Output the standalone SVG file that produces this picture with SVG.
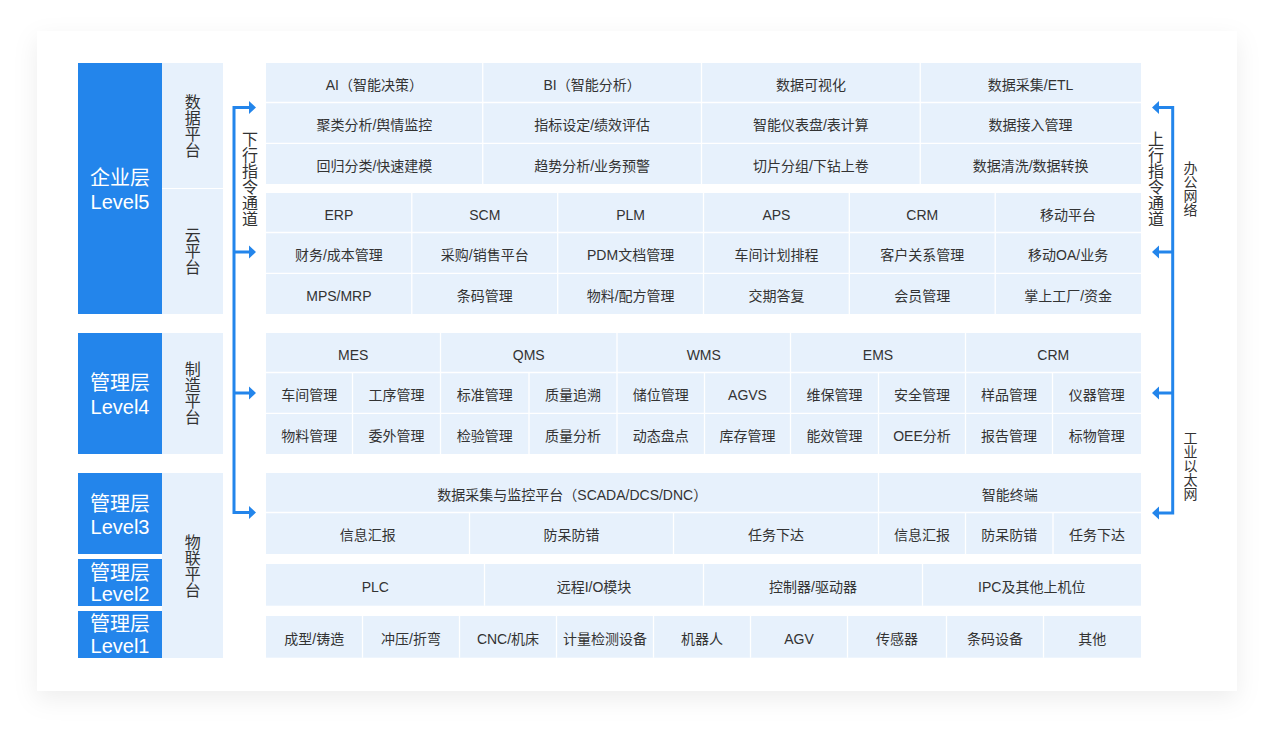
<svg xmlns="http://www.w3.org/2000/svg" width="1274" height="734" viewBox="0 0 1274 734">
<defs>
<filter id="sh" x="-10%" y="-10%" width="120%" height="125%">
<feDropShadow dx="0" dy="8" stdDeviation="12" flood-color="#000" flood-opacity="0.07"/>
</filter>
<style>
.bg{fill:#E7F1FC}
.lv{fill:#2385EB}
.sep{stroke:#fff;stroke-width:1.3;fill:none}
.t{font-family:"Liberation Sans","Noto Sans CJK SC",sans-serif;font-size:14px;fill:#333;text-anchor:middle}
.lt{font-family:"Liberation Sans","Noto Sans CJK SC",sans-serif;font-size:20px;fill:#fff;text-anchor:middle}
.vt{font-family:"Noto Sans CJK SC",sans-serif;font-size:16px;fill:#333;text-anchor:middle;writing-mode:vertical-rl}
.vs{font-family:"Noto Sans CJK SC",sans-serif;font-size:14px;fill:#333;text-anchor:middle;writing-mode:vertical-rl}
.ln{stroke:#2385EB;stroke-width:3;fill:none}
.ah{fill:#2385EB}
</style>
</defs>
<rect width="1274" height="734" fill="#fff"/>
<rect x="37" y="31" width="1200" height="660" fill="#fff" filter="url(#sh)"/>

<g id="level5">
<rect class="lv" x="78" y="63" width="84" height="251"/>
<text class="lt" x="120" y="184.5">企业层</text>
<text class="lt" x="120" y="209">Level5</text>
</g>
<g id="level4">
<rect class="lv" x="78" y="333" width="84" height="121"/>
<text class="lt" x="120" y="389.5">管理层</text>
<text class="lt" x="120" y="414">Level4</text>
</g>
<g id="level3">
<rect class="lv" x="78" y="473" width="84" height="81"/>
<text class="lt" x="120" y="510.5">管理层</text>
<text class="lt" x="120" y="534">Level3</text>
</g>
<g id="level2">
<rect class="lv" x="78" y="559" width="84" height="47"/>
<text class="lt" x="120" y="580">管理层</text>
<text class="lt" x="120" y="601">Level2</text>
</g>
<g id="level1">
<rect class="lv" x="78" y="611" width="84" height="47"/>
<text class="lt" x="120" y="630.5">管理层</text>
<text class="lt" x="120" y="653">Level1</text>
</g>

<g id="platform-data">
<rect class="bg" x="162" y="63" width="61" height="125"/>
<text class="vt" x="192.7" y="125.5">数据平台</text>
</g>
<g id="platform-cloud">
<rect class="bg" x="162" y="189" width="61" height="125"/>
<text class="vt" x="192.7" y="251">云平台</text>
</g>
<g id="platform-mfg">
<rect class="bg" x="162" y="333" width="61" height="121"/>
<text class="vt" x="192.7" y="392.5">制造平台</text>
</g>
<g id="platform-iot">
<rect class="bg" x="162" y="473" width="61" height="185"/>
<text class="vt" x="192.7" y="565.8">物联平台</text>
</g>

<g id="connectors">
<path class="ln" d="M250 107.5 H234 V512.5 H250 M234 252 H250 M234 393 H250"/>
<polygon class="ah" points="256,107.5 249,101 249,114"/>
<polygon class="ah" points="256,252 249,245.5 249,258.5"/>
<polygon class="ah" points="256,393 249,386.5 249,399.5"/>
<polygon class="ah" points="256,512.5 249,506 249,519"/>
<path class="ln" d="M1158 107.5 H1172.7 V513 H1158 M1172.7 252 H1158 M1172.7 393 H1158"/>
<polygon class="ah" points="1152,107.5 1159,101 1159,114"/>
<polygon class="ah" points="1152,252 1159,245.5 1159,258.5"/>
<polygon class="ah" points="1152,393 1159,386.5 1159,399.5"/>
<polygon class="ah" points="1152,513 1159,506.5 1159,519.5"/>
</g>
<g id="label-down">
<text class="vt" x="250" y="178.5">下行指令通道</text>
</g>
<g id="label-up">
<text class="vt" x="1156" y="178.5">上行指令通道</text>
</g>
<g id="label-office">
<text class="vs" x="1190.5" y="188.3">办公网络</text>
</g>
<g id="label-ethernet">
<text class="vs" x="1190.5" y="466">工业以太网</text>
</g>

<g id="data-platform">
<rect class="bg" x="266" y="63" width="875" height="121"/>
<path class="sep" d="M266 102.5 H1141 M266 143.3 H1141 M482.75 63 V184 M701.5 63 V184 M920.25 63 V184"/>
<text class="t" x="374.4" y="89.7">AI（智能决策）</text>
<text class="t" x="592.1" y="89.7">BI（智能分析）</text>
<text class="t" x="810.9" y="89.7">数据可视化</text>
<text class="t" x="1030.6" y="89.7">数据采集/ETL</text>
<text class="t" x="374.4" y="129.8">聚类分析/舆情监控</text>
<text class="t" x="592.1" y="129.8">指标设定/绩效评估</text>
<text class="t" x="810.9" y="129.8">智能仪表盘/表计算</text>
<text class="t" x="1030.6" y="129.8">数据接入管理</text>
<text class="t" x="374.4" y="170.7">回归分类/快速建模</text>
<text class="t" x="592.1" y="170.7">趋势分析/业务预警</text>
<text class="t" x="810.9" y="170.7">切片分组/下钻上卷</text>
<text class="t" x="1030.6" y="170.7">数据清洗/数据转换</text>
</g>

<g id="cloud-platform">
<rect class="bg" x="266" y="193" width="875" height="121"/>
<path class="sep" d="M266 232.5 H1141 M266 273.3 H1141 M411.8 193 V314 M557.7 193 V314 M703.5 193 V314 M849.3 193 V314 M995.2 193 V314"/>
<text class="t" x="338.9" y="219.7">ERP</text>
<text class="t" x="484.75" y="219.7">SCM</text>
<text class="t" x="630.6" y="219.7">PLM</text>
<text class="t" x="776.4" y="219.7">APS</text>
<text class="t" x="922.25" y="219.7">CRM</text>
<text class="t" x="1068.1" y="219.7">移动平台</text>
<text class="t" x="338.9" y="259.8">财务/成本管理</text>
<text class="t" x="484.75" y="259.8">采购/销售平台</text>
<text class="t" x="630.6" y="259.8">PDM文档管理</text>
<text class="t" x="776.4" y="259.8">车间计划排程</text>
<text class="t" x="922.25" y="259.8">客户关系管理</text>
<text class="t" x="1068.1" y="259.8">移动OA/业务</text>
<text class="t" x="338.9" y="300.7">MPS/MRP</text>
<text class="t" x="484.75" y="300.7">条码管理</text>
<text class="t" x="630.6" y="300.7">物料/配方管理</text>
<text class="t" x="776.4" y="300.7">交期答复</text>
<text class="t" x="922.25" y="300.7">会员管理</text>
<text class="t" x="1068.1" y="300.7">掌上工厂/资金</text>
</g>

<g id="mfg-platform">
<rect class="bg" x="266" y="333" width="875" height="121"/>
<path class="sep" d="M266 372.5 H1141 M266 413.3 H1141 M440.5 333 V454 M617 333 V454 M790.5 333 V454 M965.5 333 V454 M352.5 372.5 V454 M529 372.5 V454 M704.5 372.5 V454 M878.5 372.5 V454 M1052.5 372.5 V454"/>
<text class="t" x="353.25" y="359.7">MES</text>
<text class="t" x="528.75" y="359.7">QMS</text>
<text class="t" x="703.75" y="359.7">WMS</text>
<text class="t" x="878" y="359.7">EMS</text>
<text class="t" x="1053.25" y="359.7">CRM</text>
<text class="t" x="309.25" y="399.8">车间管理</text>
<text class="t" x="396.5" y="399.8">工序管理</text>
<text class="t" x="484.75" y="399.8">标准管理</text>
<text class="t" x="573" y="399.8">质量追溯</text>
<text class="t" x="660.75" y="399.8">储位管理</text>
<text class="t" x="747.5" y="399.8">AGVS</text>
<text class="t" x="834.5" y="399.8">维保管理</text>
<text class="t" x="922" y="399.8">安全管理</text>
<text class="t" x="1009" y="399.8">样品管理</text>
<text class="t" x="1096.75" y="399.8">仪器管理</text>
<text class="t" x="309.25" y="440.7">物料管理</text>
<text class="t" x="396.5" y="440.7">委外管理</text>
<text class="t" x="484.75" y="440.7">检验管理</text>
<text class="t" x="573" y="440.7">质量分析</text>
<text class="t" x="660.75" y="440.7">动态盘点</text>
<text class="t" x="747.5" y="440.7">库存管理</text>
<text class="t" x="834.5" y="440.7">能效管理</text>
<text class="t" x="922" y="440.7">OEE分析</text>
<text class="t" x="1009" y="440.7">报告管理</text>
<text class="t" x="1096.75" y="440.7">标物管理</text>
</g>

<g id="scada">
<rect class="bg" x="266" y="473" width="875" height="81"/>
<path class="sep" d="M266 512.5 H1141 M878.5 473 V554 M469.5 512.5 V554 M673.5 512.5 V554 M965.5 512.5 V554 M1053 512.5 V554"/>
<text class="t" x="572.25" y="499.7">数据采集与监控平台（SCADA/DCS/DNC）</text>
<text class="t" x="1009.75" y="499.7">智能终端</text>
<text class="t" x="367.75" y="540.2">信息汇报</text>
<text class="t" x="571.5" y="540.2">防呆防错</text>
<text class="t" x="776" y="540.2">任务下达</text>
<text class="t" x="922" y="540.2">信息汇报</text>
<text class="t" x="1009.25" y="540.2">防呆防错</text>
<text class="t" x="1097" y="540.2">任务下达</text>
</g>

<g id="control">
<rect class="bg" x="266" y="564" width="875" height="41.7"/>
<path class="sep" d="M484.5 564 V605.7 M703.5 564 V605.7 M922.5 564 V605.7"/>
<text class="t" x="375.25" y="591.8">PLC</text>
<text class="t" x="594" y="591.8">远程I/O模块</text>
<text class="t" x="813" y="591.8">控制器/驱动器</text>
<text class="t" x="1031.75" y="591.8">IPC及其他上机位</text>
</g>

<g id="devices">
<rect class="bg" x="266" y="616" width="875" height="41.7"/>
<path class="sep" d="M362.5 616 V657.7 M459.5 616 V657.7 M556.5 616 V657.7 M653.5 616 V657.7 M750.5 616 V657.7 M847.5 616 V657.7 M946.5 616 V657.7 M1043.5 616 V657.7"/>
<text class="t" x="314.25" y="643.8">成型/铸造</text>
<text class="t" x="411" y="643.8">冲压/折弯</text>
<text class="t" x="508" y="643.8">CNC/机床</text>
<text class="t" x="605" y="643.8">计量检测设备</text>
<text class="t" x="702" y="643.8">机器人</text>
<text class="t" x="799" y="643.8">AGV</text>
<text class="t" x="897" y="643.8">传感器</text>
<text class="t" x="995" y="643.8">条码设备</text>
<text class="t" x="1092.25" y="643.8">其他</text>
</g>
</svg>
